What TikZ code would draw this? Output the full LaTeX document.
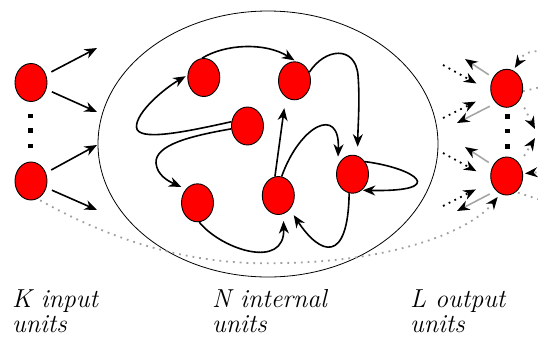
\documentclass[tikz,border=0pt]{standalone}
\usetikzlibrary{shapes.geometric,arrows.meta}
\begin{document}
\begin{tikzpicture}[x=1pt,y=-1pt,
  unit/.style={ellipse, draw=black, line width=0.9pt, fill=red, minimum width=32pt, minimum height=38pt, inner sep=0pt},
  sq/.style={fill=black, minimum size=4.6pt, inner sep=0pt},
  conn/.style={line width=1.6pt, -{Stealth[length=12.5pt,width=10pt,inset=4pt]}},
  fb/.style={line width=1.6pt, draw=gray!70, -{Stealth[length=12.5pt,width=10pt,inset=4pt,color=black]}},
  dotblk/.style={line width=1.8pt, dash pattern=on 1.8pt off 4.6pt, -{Stealth[length=12.5pt,width=10pt,inset=4pt]}},
  dotgray/.style={line width=1.8pt, draw=gray!75, dash pattern=on 1.8pt off 5pt, -{Stealth[length=12.5pt,width=10pt,inset=4pt,color=black]}},
  dotgrayplain/.style={line width=1.8pt, draw=gray!75, dash pattern=on 1.8pt off 5pt},
  lab/.style={font=\fontsize{26}{30}\selectfont\itshape, anchor=base west, inner sep=0pt}
]
\useasboundingbox (0,0) rectangle (538,338);
\clip (0,0) rectangle (538,338);

% reservoir
\node[ellipse, draw=black, line width=0.8pt, minimum width=340pt, minimum height=266pt, inner sep=0pt] (res) at (268,144) {};

% input units
\node[unit] (In1) at (31,82.5) {};
\node[unit] (In2) at (31,181) {};
\node[sq] (dl1) at (30.5,116) {};
\node[sq] (dl2) at (30.5,130.5) {};
\node[sq] (dl3) at (30.5,146) {};
\coordinate (i1) at (97,48);
\coordinate (i2) at (97,112);
\coordinate (i3) at (97,145);
\coordinate (i4) at (97,210);
\draw[conn, shorten <=6pt] (In1) -- (i1);
\draw[conn, shorten <=6pt] (In1) -- (i2);
\draw[conn, shorten <=6pt] (In2) -- (i3);
\draw[conn, shorten <=6pt] (In2) -- (i4);

% internal units
\node[unit] (A) at (203.8,77.5) {};
\node[unit] (B) at (294.5,80.8) {};
\node[unit] (C) at (247.5,126) {};
\node[unit] (D) at (197.5,202.8) {};
\node[unit] (E) at (278.3,195.5) {};
\node[unit] (F) at (352.5,174.2) {};

\draw[conn, shorten >=2pt] (A.95) .. controls (225,44) and (265,42) .. (B.85);
\draw[conn, shorten >=2pt] (C.165) .. controls (185,132) and (137,142) .. (136.5,127) .. controls (136,112) and (165,88) .. (A.172);
\draw[conn, shorten >=5pt] (C.190) .. controls (190,136) and (155,145) .. (156,163) .. controls (157,175) and (168,181) .. (D.130);
\draw[conn, shorten >=9pt] (B.30) .. controls (325,48) and (355,45) .. (358,75) .. controls (360,100) and (358,125) .. (F.75);
\draw[conn, shorten >=11pt] (E.100) -- (B.242);
\draw[conn, shorten >=9pt] (E.80) .. controls (300,125) and (340,105) .. (F.150);
\draw[conn, shorten >=1pt] (F.45) .. controls (415,168) and (450,192) .. (F.-60);
\draw[conn, shorten >=7pt] (F.260) .. controls (348,265) and (320,255) .. (E.-50);
\draw[conn, shorten >=7pt] (D.275) .. controls (222,250) and (285,270) .. (E.285);

% output units
\node[unit] (O1) at (506.7,88.3) {};
\node[unit] (O2) at (506.7,176) {};
\node[sq] (dr1) at (507.5,116.7) {};
\node[sq] (dr2) at (507.5,131) {};
\node[sq] (dr3) at (507.5,146.3) {};

% feedback (gray) and readout (dotted) connections
\coordinate (f1) at (465,59);
\coordinate (f2) at (457,123);
\coordinate (f3) at (465,147);
\coordinate (f4) at (457,211);
\draw[fb, shorten <=5pt] (O1.142) -- (f1);
\draw[fb, shorten <=7pt] (O1.234) -- (f2);
\draw[fb, shorten <=5pt] (O2.142) -- (f3);
\draw[fb, shorten <=7pt] (O2.234) -- (f4);

\coordinate (d1) at (443,65);
\coordinate (d2) at (443,118);
\coordinate (d3) at (443,153);
\coordinate (d4) at (443,206);
\draw[dotblk, shorten >=16pt] (d1) -- (O1.190);
\draw[dotblk, shorten >=17pt] (d2) -- (O1.200);
\draw[dotblk, shorten >=16pt] (d3) -- (O2.190);
\draw[dotblk, shorten >=17pt] (d4) -- (O2.200);

% right-hand connections (partly outside the picture)
\coordinate (r1) at (550,50);
\coordinate (r2) at (550,85);
\coordinate (r3) at (535,129);
\coordinate (r4) at (535,138);
\coordinate (r5) at (550,171);
\coordinate (r6) at (550,203);
\draw[dotgray, shorten >=3pt] (r1) .. controls (525,52) .. (O1.70);
\draw[dotgrayplain] (O1.-10) -- (r2);
\draw[dotgray, shorten <=9pt] (O1.-40) -- (r3);
\draw[dotgray, shorten <=9pt] (O2.44) -- (r4);
\draw[dotgray, shorten >=2pt] (r5) -- (O2.8);
\draw[dotgrayplain, shorten <=2pt] (O2.-60) -- (r6);

% direct input-to-output connection
\draw[dotgray, shorten <=3pt, shorten >=4pt] (In2.290) .. controls (120,245) and (200,266) .. (280,263) .. controls (390,262) and (470,232) .. (O2.250);

% labels
\node[lab] (lk1) at (12,307) {K input};
\node[lab] (lk2) at (12,332) {units};
\node[lab] (ln1) at (212,307) {N internal};
\node[lab] (ln2) at (212,332) {units};
\node[lab] (ll1) at (410,307) {L output};
\node[lab] (ll2) at (410,332) {units};
\end{tikzpicture}
\end{document}
